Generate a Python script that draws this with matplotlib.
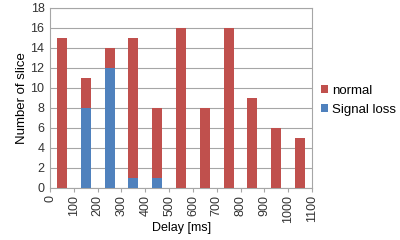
import matplotlib.pyplot as plt
import numpy as np

plt.rcParams['font.family'] = ['Liberation Sans', 'DejaVu Sans']

delays = [0, 100, 200, 300, 400, 500, 600, 700, 800, 900, 1000]
signal_loss = [0, 8, 12, 1, 1, 0, 0, 0, 0, 0, 0]
normal = [15, 3, 2, 14, 7, 16, 8, 16, 9, 6, 5]
tick_labels = [str(v) for v in range(0, 1200, 100)]

red = '#C0504D'
blue = '#4F81BD'
grid_col = '#A6A6A6'

fig = plt.figure(figsize=(4, 2.4), dpi=100)
ax = fig.add_axes([0.125, 0.217, 0.655, 0.75])

x = np.array(delays) + 50
b1 = ax.bar(x, signal_loss, width=42, color=blue, zorder=3)
b2 = ax.bar(x, normal, width=42, bottom=signal_loss, color=red, zorder=3)

ax.set_xlim(0, 1100)
ax.set_ylim(0, 18)
ax.set_yticks(range(0, 19, 2))
ax.set_xticks(range(0, 1200, 100))
ax.set_xticklabels(tick_labels, rotation=90, va='top', ha='center')
ax.tick_params(axis='both', labelsize=9, colors='#333333')
ax.tick_params(axis='y', length=0, pad=4)
ax.tick_params(axis='x', length=3, color=grid_col, pad=2)
ax.yaxis.grid(True, color=grid_col, linewidth=0.8, zorder=0)
for s in ax.spines.values():
    s.set_color(grid_col)
    s.set_linewidth(0.8)

ax.set_ylabel('Number of slice', fontsize=9.5, labelpad=2)
fig.text(0.453, 0.05, 'Delay [ms]', fontsize=9, ha='center', va='center')

fig.legend([b2, b1], ['normal', 'Signal loss'], loc='upper left',
           bbox_to_anchor=(0.78, 0.685), frameon=False, fontsize=9.5,
           handlelength=0.55, handleheight=0.55, handletextpad=0.3,
           labelspacing=0.55, borderpad=0.2)

fig.savefig('out.png', dpi=100)
